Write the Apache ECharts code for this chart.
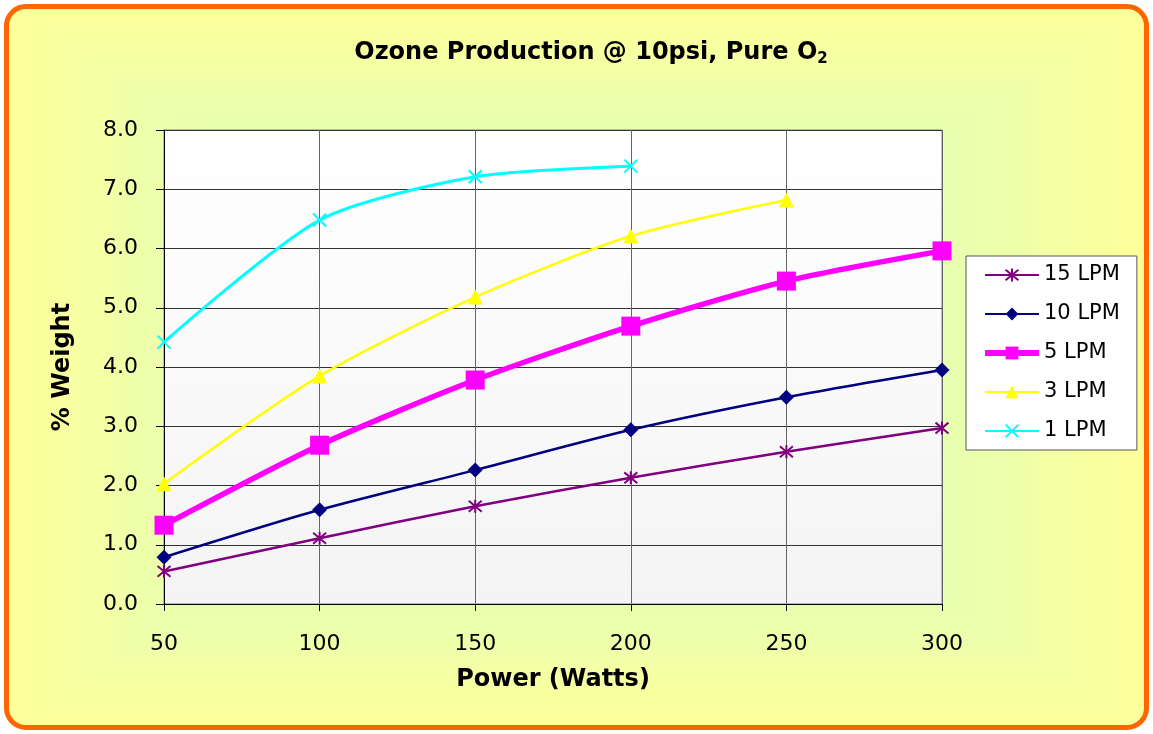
<!DOCTYPE html>
<html>
<head>
<meta charset="utf-8">
<script src="https://cdn.jsdelivr.net/npm/echarts@6/dist/echarts.min.js"></script>
<style>
html,body{margin:0;padding:0;background:#fff;}
#bg{position:absolute;left:0;top:0;}
#frame{position:absolute;left:4px;top:4px;width:1145px;height:726px;box-sizing:border-box;border:5px solid #FF6600;border-radius:22px;background:transparent;}
#chart{position:absolute;left:0;top:0;width:1153px;height:734px;}
</style>
</head>
<body>
<canvas id="bg" width="1153" height="734"></canvas>
<div id="frame"></div>
<div id="chart"></div>
<script>
const powerWatts = [50, 100, 150, 200, 250, 300];
const lpm15 = [0.55, 1.11, 1.65, 2.13, 2.57, 2.97];
const lpm10 = [0.79, 1.59, 2.26, 2.94, 3.49, 3.95];
const lpm5  = [1.33, 2.68, 3.78, 4.69, 5.45, 5.96];
const lpm3  = [2.03, 3.85, 5.18, 6.21, 6.82];
const lpm1  = [4.42, 6.48, 7.21, 7.39];
const seriesNames = ['15 LPM', '10 LPM', '5 LPM', '3 LPM', '1 LPM'];
const yTicks = [0, 1, 2, 3, 4, 5, 6, 7, 8];

function pairs(vals){ return vals.map((v,i)=>[powerWatts[i], v]); }

// rectangular "from centre" background gradient (decoration only)
(function(){
  const c = document.getElementById('bg').getContext('2d');
  const x0 = 6, y0 = 6, w = 1141, h = 722, r = 20;
  c.save();
  c.beginPath();
  c.moveTo(x0+r, y0); c.lineTo(x0+w-r, y0); c.quadraticCurveTo(x0+w, y0, x0+w, y0+r);
  c.lineTo(x0+w, y0+h-r); c.quadraticCurveTo(x0+w, y0+h, x0+w-r, y0+h);
  c.lineTo(x0+r, y0+h); c.quadraticCurveTo(x0, y0+h, x0, y0+h-r);
  c.lineTo(x0, y0+r); c.quadraticCurveTo(x0, y0, x0+r, y0);
  c.closePath(); c.clip();
  const cx = 576, cy = 367, W = 572, H = 363, N = 60;
  for (let i = N; i >= 0; i--) {
    const t = i / N, k = Math.pow(t, 1.5);
    const R = Math.round(204 + 51 * k), B = Math.round(204 - 51 * k);
    c.fillStyle = 'rgb(' + R + ',255,' + B + ')';
    c.fillRect(cx - W * t, cy - H * t, 2 * W * t, 2 * H * t);
  }
  c.restore();
})();

const FONT = 'DejaVu Sans, Verdana, sans-serif';
const chart = echarts.init(document.getElementById('chart'), null, {renderer:'canvas'});
const asterisk = 'path://M0,0L10,10M10,0L0,10M5,-1L5,11';
const cross = 'path://M0,0L10,10M10,0L0,10';

chart.setOption({
  backgroundColor: 'transparent',
  animation: false,
  title: {
    text: '{t|Ozone Production @ 10psi, Pure O}{s|2}',
    left: 586, top: 34, textAlign: 'center',
    textStyle: { rich: {
      t: {fontFamily: FONT, fontWeight: 'bold', fontSize: 24, color: '#000'},
      s: {fontFamily: FONT, fontWeight: 'bold', fontSize: 15, color: '#000', padding:[13,0,0,0]}
    }}
  },
  legend: {
    orient: 'vertical', left: 966, top: 256,
    backgroundColor: '#fff', borderColor: '#555', borderWidth: 1,
    padding: [8, 17, 8, 16],
    itemWidth: 54, itemHeight: 16, itemGap: 17,
    textStyle: {fontFamily: FONT, fontSize: 21, color: '#000', lineHeight: 22},
    data: [
      {name: seriesNames[0]},
      {name: seriesNames[1]},
      {name: seriesNames[2], lineStyle: {width: 6}},
      {name: seriesNames[3]},
      {name: seriesNames[4]}
    ]
  },
  grid: {
    left: 164, right: 211, top: 130, bottom: 130,
    show: true, borderColor: '#808080', borderWidth: 1,
    backgroundColor: new echarts.graphic.LinearGradient(0,0,0,1,[{offset:0,color:'#FFFFFF'},{offset:1,color:'#F4F4F4'}])
  },
  xAxis: {
    type: 'value', min: 50, max: 300, interval: 50,
    name: 'Power (Watts)', nameLocation: 'middle', nameGap: 64,
    nameTextStyle: {fontFamily: FONT, fontWeight: 'bold', fontSize: 24, color: '#000'},
    axisLine: {show: true, onZero: false, lineStyle: {color: '#000', width: 1}},
    axisTick: {show: true, length: 7, lineStyle: {color: '#000'}},
    axisLabel: {fontFamily: FONT, fontSize: 22, color: '#000', margin: 29},
    splitLine: {show: true, lineStyle: {color: '#666', width: 1}}
  },
  yAxis: {
    type: 'value', min: 0, max: 8, interval: 1,
    name: '% Weight', nameLocation: 'middle', nameGap: 89, nameRotate: 90,
    nameTextStyle: {fontFamily: FONT, fontWeight: 'bold', fontSize: 24, color: '#000'},
    axisLine: {show: true, lineStyle: {color: '#000', width: 1}},
    axisTick: {show: true, length: 8, lineStyle: {color: '#000'}},
    axisLabel: {fontFamily: FONT, fontSize: 22, color: '#000', margin: 26,
      formatter: v => yTicks.includes(v) ? v.toFixed(1) : ''},
    splitLine: {show: true, lineStyle: {color: '#333', width: 1}}
  },
  series: [
    {name: seriesNames[0], type: 'line', data: pairs(lpm15), smooth: 0.25,
     symbol: asterisk, symbolSize: 13,
     lineStyle: {color: '#800080', width: 2.5},
     itemStyle: {color: '#800080', borderColor: '#800080', borderWidth: 2}},
    {name: seriesNames[1], type: 'line', data: pairs(lpm10), smooth: 0.25,
     symbol: 'diamond', symbolSize: 15,
     lineStyle: {color: '#000080', width: 2.5},
     itemStyle: {color: '#000080'}},
    {name: seriesNames[2], type: 'line', data: pairs(lpm5), smooth: 0.25,
     symbol: 'rect', symbolSize: 19,
     lineStyle: {color: '#FF00FF', width: 5.5},
     itemStyle: {color: '#FF00FF'}},
    {name: seriesNames[3], type: 'line', data: pairs(lpm3), smooth: 0.25,
     symbol: 'triangle', symbolSize: 15,
     lineStyle: {color: '#FFFF00', width: 2.5},
     itemStyle: {color: '#FFFF00'}},
    {name: seriesNames[4], type: 'line', data: pairs(lpm1), smooth: 0.25,
     symbol: cross, symbolSize: 13,
     lineStyle: {color: '#00FFFF', width: 3},
     itemStyle: {color: '#00FFFF', borderColor: '#00FFFF', borderWidth: 2}}
  ]
});
</script>
</body>
</html>
